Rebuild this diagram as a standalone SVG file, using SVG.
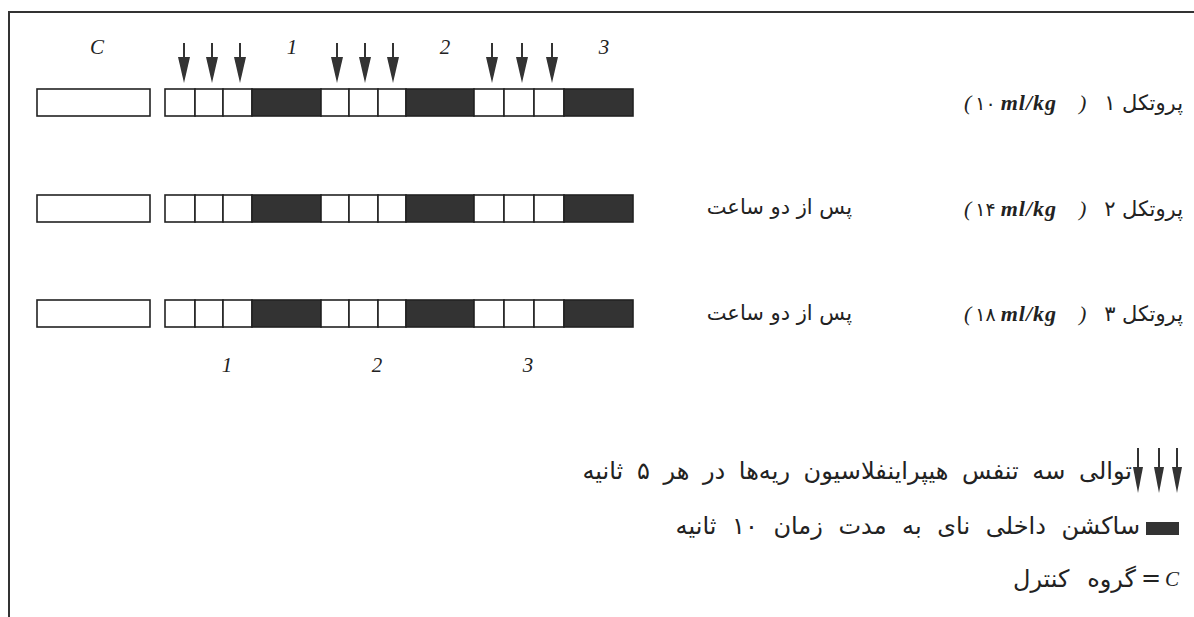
<svg xmlns="http://www.w3.org/2000/svg" width="1194" height="617" viewBox="0 0 1194 617">
<style>
.frame{stroke:#333;stroke-width:2;fill:none}
.cell{fill:#fff;stroke:#222;stroke-width:1.6}
.blk{fill:#333;stroke:#222;stroke-width:1.6}
.lbl{font-family:"Liberation Serif",serif;font-style:italic;font-size:21px;fill:#222}
.fa{font-family:"DejaVu Sans",sans-serif;font-size:21px;fill:#222}
.lg{font-family:"DejaVu Sans",sans-serif;font-size:24px;fill:#222}
.unit{font-family:"Liberation Serif","DejaVu Sans",serif;font-style:italic;font-size:22px;fill:#222}
.b{font-weight:bold;letter-spacing:1px}
.dg{font-family:"DejaVu Sans",sans-serif;font-style:normal;font-size:19px}
</style>
<defs>
<g id="arrow">
<line x1="0" y1="0" x2="0" y2="16" stroke="#333" stroke-width="2"/>
<path d="M-6,14 L6,14 L0,40 Z" fill="#333"/>
</g>
<g id="row">
<rect class="cell" x="37" y="0" width="113" height="27"/>
<rect class="cell" x="165" y="0" width="30" height="27"/>
<rect class="cell" x="195" y="0" width="28" height="27"/>
<rect class="cell" x="223" y="0" width="29" height="27"/>
<rect class="blk" x="252" y="0" width="69" height="27"/>
<rect class="cell" x="321" y="0" width="28" height="27"/>
<rect class="cell" x="349" y="0" width="29" height="27"/>
<rect class="cell" x="378" y="0" width="28" height="27"/>
<rect class="blk" x="406" y="0" width="68" height="27"/>
<rect class="cell" x="474" y="0" width="30" height="27"/>
<rect class="cell" x="504" y="0" width="30" height="27"/>
<rect class="cell" x="534" y="0" width="30" height="27"/>
<rect class="blk" x="564" y="0" width="69" height="27"/>
</g>
</defs>
<rect width="1194" height="617" fill="#fff"/>
<g id="frame">
<path class="frame" d="M9,617 L9,12 L1194,12"/>
</g>
<g id="top-labels">
<text class="lbl" x="97" y="54" text-anchor="middle">C</text>
<text class="lbl" x="292" y="54" text-anchor="middle">1</text>
<text class="lbl" x="445" y="54" text-anchor="middle">2</text>
<text class="lbl" x="604" y="54" text-anchor="middle">3</text>
</g>
<g id="connectors">
<use href="#arrow" x="184" y="43"/>
<use href="#arrow" x="212" y="43"/>
<use href="#arrow" x="240" y="43"/>
<use href="#arrow" x="337" y="43"/>
<use href="#arrow" x="365" y="43"/>
<use href="#arrow" x="393" y="43"/>
<use href="#arrow" x="492" y="43"/>
<use href="#arrow" x="522" y="43"/>
<use href="#arrow" x="552" y="43"/>
</g>
<g id="protocol1">
<use href="#row" y="89"/>
<text class="unit" x="964" y="110">(<tspan class="dg" dx="4">۱۰</tspan><tspan class="b" dx="5">ml/kg</tspan><tspan dx="22">)</tspan></text>
<text class="fa" x="1183" y="110" text-anchor="end">پروتکل ۱</text>
</g>
<g id="protocol2">
<use href="#row" y="195"/>
<text class="fa" x="852" y="214" text-anchor="end">پس از دو ساعت</text>
<text class="unit" x="964" y="216">(<tspan class="dg" dx="4">۱۴</tspan><tspan class="b" dx="5">ml/kg</tspan><tspan dx="22">)</tspan></text>
<text class="fa" x="1183" y="216" text-anchor="end">پروتکل ۲</text>
</g>
<g id="protocol3">
<use href="#row" y="300"/>
<text class="fa" x="852" y="320" text-anchor="end">پس از دو ساعت</text>
<text class="unit" x="964" y="321">(<tspan class="dg" dx="4">۱۸</tspan><tspan class="b" dx="5">ml/kg</tspan><tspan dx="22">)</tspan></text>
<text class="fa" x="1183" y="321" text-anchor="end">پروتکل ۳</text>
</g>
<g id="bottom-labels">
<text class="lbl" x="227" y="372" text-anchor="middle">1</text>
<text class="lbl" x="377" y="372" text-anchor="middle">2</text>
<text class="lbl" x="528" y="372" text-anchor="middle">3</text>
</g>
<g id="legend">
<g id="legend-arrows">
<line x1="1138" y1="448" x2="1138" y2="470" stroke="#333" stroke-width="2"/>
<path d="M1133,467 L1143,467 L1138,493 Z" fill="#333"/>
<line x1="1159" y1="448" x2="1159" y2="470" stroke="#333" stroke-width="2"/>
<path d="M1154,467 L1164,467 L1159,493 Z" fill="#333"/>
<line x1="1177" y1="448" x2="1177" y2="470" stroke="#333" stroke-width="2"/>
<path d="M1172,467 L1182,467 L1177,493 Z" fill="#333"/>
</g>
<text class="lg" x="1132" y="479" text-anchor="end" word-spacing="6">توالی سه تنفس هیپراینفلاسیون ریه‌ها در هر ۵ ثانیه</text>
<rect x="1146" y="522" width="33" height="13" fill="#333"/>
<text class="lg" x="1140" y="534" text-anchor="end" word-spacing="8">ساکشن داخلی نای به مدت زمان ۱۰ ثانیه</text>
<text class="lbl" x="1172" y="586" text-anchor="middle">C</text>
<text class="lg" x="1151" y="586" text-anchor="middle">=</text>
<text class="lg" x="1136" y="587" text-anchor="end" word-spacing="10">گروه کنترل</text>
</g>
</svg>
